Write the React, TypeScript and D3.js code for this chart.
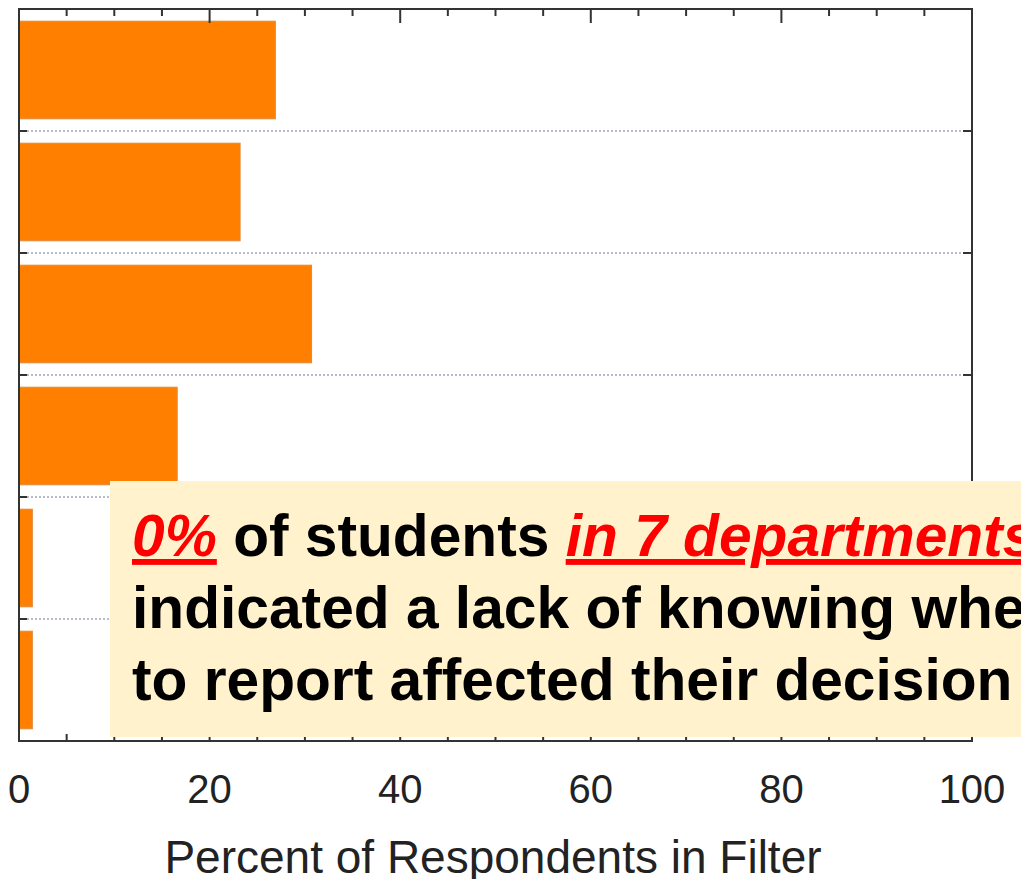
import React from "react";
import * as d3 from "d3";

const categories = ["Dept 1", "Dept 2", "Dept 3", "Dept 4", "Dept 5", "Dept 6"];
const values = [26.9, 23.2, 30.7, 16.6, 1.4, 1.4];
const xTickLabels = [0, 20, 40, 60, 80, 100];
const xTitle = "Percent of Respondents in Filter";

const W = 1021;
const H = 879;
const left = 19;
const right = 972;
const top = 9;
const bottom = 741;

export default function App() {
  const x = d3.scaleLinear().domain([0, 100]).range([left, right]);
  const y = d3
    .scaleBand<string>()
    .domain(categories)
    .range([top, bottom])
    .paddingInner(0.2)
    .paddingOuter(0.1);
  const step = y.step();
  const boundaries = d3.range(1, categories.length).map((i) => top + i * step);
  const minorTicks = d3.range(5, 100, 5);
  const font = "Arial, 'Liberation Sans', sans-serif";
  const fs = 58.7;

  return (
    <svg
      width={W}
      height={H}
      style={{ position: "absolute", left: 0, top: 0, background: "#fff" }}
    >
      {boundaries.map((b, i) => (
        <line
          key={"g" + i}
          x1={left}
          x2={right}
          y1={b}
          y2={b}
          stroke="#a0a4b8"
          strokeWidth={1.3}
          strokeDasharray="2,2"
        />
      ))}
      {categories.map((c, i) => (
        <rect
          key={c}
          x={x(0)}
          y={y(c)}
          width={x(values[i]) - x(0)}
          height={y.bandwidth()}
          fill="#ff8000"
          stroke="#e0893a"
          strokeWidth={1}
        />
      ))}
      <rect
        x={left}
        y={top}
        width={right - left}
        height={bottom - top}
        fill="none"
        stroke="#333"
        strokeWidth={2}
      />
      {minorTicks.map((t) => {
        const len = t % 20 === 0 ? 14 : 7;
        return (
          <g key={"t" + t}>
            <line x1={x(t)} x2={x(t)} y1={top} y2={top + len} stroke="#333" strokeWidth={2} />
            <line x1={x(t)} x2={x(t)} y1={bottom} y2={bottom - len} stroke="#333" strokeWidth={2} />
          </g>
        );
      })}
      {boundaries.map((b, i) => (
        <g key={"yt" + i}>
          <line x1={left} x2={left + 8} y1={b} y2={b} stroke="#333" strokeWidth={2} />
          <line x1={right} x2={right - 9} y1={b} y2={b} stroke="#333" strokeWidth={2} />
        </g>
      ))}
      {xTickLabels.map((t) => (
        <text
          key={"l" + t}
          x={x(t)}
          y={803}
          textAnchor="middle"
          fontFamily={font}
          fontSize={40}
          fill="#222"
        >
          {t}
        </text>
      ))}
      <text
        x={493}
        y={873}
        textAnchor="middle"
        fontFamily={font}
        fontSize={46}
        fill="#222"
      >
        {xTitle}
      </text>
      <rect x={110} y={481} width={W - 110 + 10} height={256} fill="#fff2cc" />
      <text x={132} y={556} fontFamily={font} fontSize={fs} fontWeight="bold" fill="#000">
        <tspan fill="#ff0000" fontStyle="italic" textDecoration="underline">
          0%
        </tspan>
        <tspan> of students </tspan>
        <tspan fill="#ff0000" fontStyle="italic" textDecoration="underline">
          in 7 departments
        </tspan>
      </text>
      <text x={132} y={628} fontFamily={font} fontSize={fs} fontWeight="bold" fill="#000">
        indicated a lack of knowing where
      </text>
      <text x={132} y={700} fontFamily={font} fontSize={fs} fontWeight="bold" fill="#000">
        to report affected their decision
      </text>
    </svg>
  );
}
